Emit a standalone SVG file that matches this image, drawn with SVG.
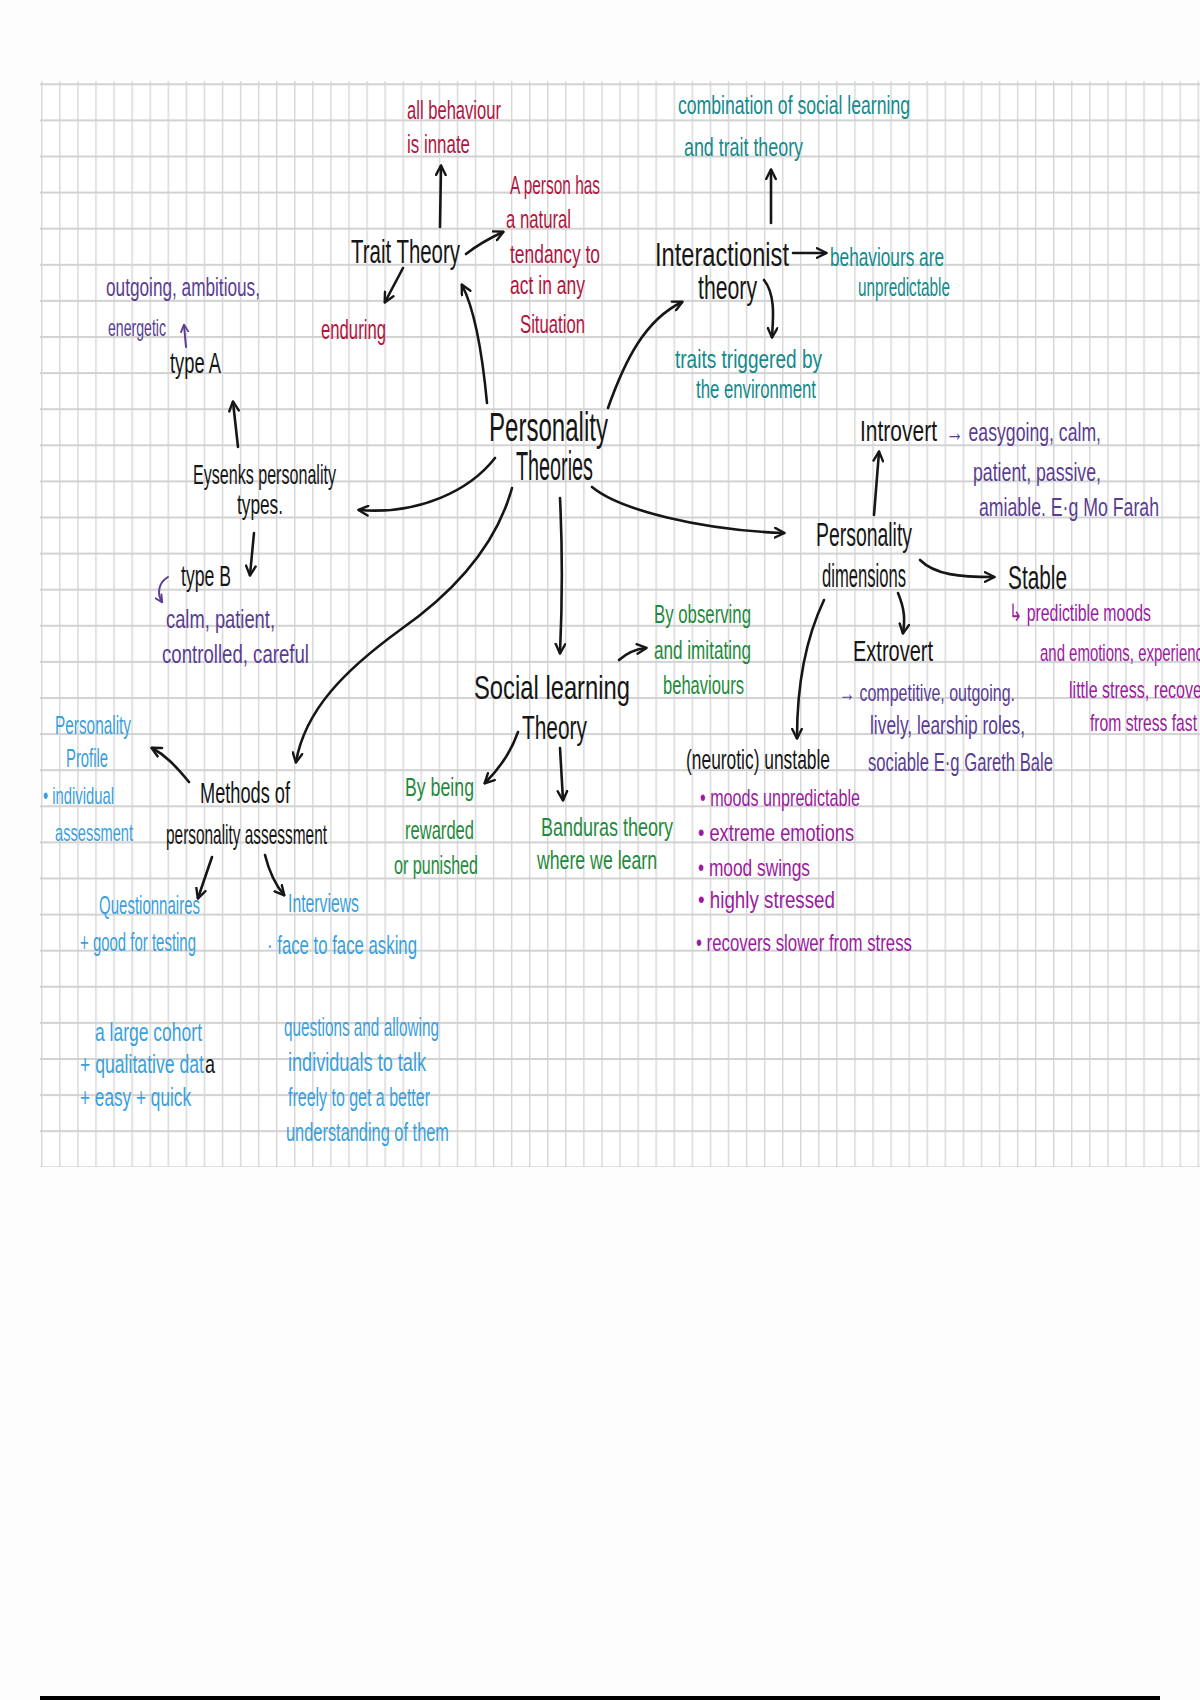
<svg xmlns="http://www.w3.org/2000/svg" width="1200" height="1700" viewBox="0 0 1200 1700">
<defs>
<style>
text{font-family:"Liberation Sans Narrow","Liberation Sans",Arial,sans-serif;}
.k{fill:#161616}.r{fill:#b3143e}.tl{fill:#138a8c}.p{fill:#5a3d92}.m{fill:#9c1a9e}.g{fill:#1f8a3c}.b{fill:#3a9fdc}
.s40{font-size:40px}.s33{font-size:33px}.s30{font-size:30px}.s28{font-size:28px}.s26{font-size:26px}.s24{font-size:24px}
.c{fill:none;stroke:#161616;stroke-width:2.6;stroke-linecap:round;marker-end:url(#ah)}
.cp{fill:none;stroke:#5a3d92;stroke-width:2;stroke-linecap:round;marker-end:url(#ahp)}
</style>
<marker id="ah" viewBox="0 0 10 10" refX="8.5" refY="5" markerWidth="12" markerHeight="12" markerUnits="userSpaceOnUse" orient="auto">
<path d="M1,1 L9,5 L1,9" fill="none" stroke="#161616" stroke-width="2" stroke-linecap="round" stroke-linejoin="round"/>
</marker>
<marker id="ahp" viewBox="0 0 10 10" refX="8.5" refY="5" markerWidth="9" markerHeight="9" markerUnits="userSpaceOnUse" orient="auto">
<path d="M1,1 L9,5 L1,9" fill="none" stroke="#5a3d92" stroke-width="2" stroke-linecap="round" stroke-linejoin="round"/>
</marker>
<pattern id="grid" patternUnits="userSpaceOnUse" x="41.1" y="83.3" width="18.07" height="36.1">
<rect x="0" y="0" width="1.4" height="36.1" fill="#d6d6d6"/>
<rect x="0" y="0" width="18.07" height="2" fill="#d2d2d2"/>
</pattern>
</defs>
<rect x="0" y="0" width="1200" height="1700" fill="#fdfdfd"/>
<g id="paper">
<rect x="40" y="81" width="1160" height="1086" fill="#ffffff"/>
<rect x="40" y="81" width="1160" height="1086" fill="url(#grid)"/>
<rect x="40" y="1696" width="1120" height="4" fill="#000000"/>
</g>

<g id="connectors">
<path class="c" d="M487,403 C482,350 475,310 462,285"/>
<path class="c" d="M440,227 L441,166"/>
<path class="c" d="M466,254 C480,243 490,238 503,232"/>
<path class="c" d="M403,268 L385,302"/>
<path class="c" d="M608,408 C625,360 645,320 682,302"/>
<path class="c" d="M771,223 L771,170"/>
<path class="c" d="M793,253 L826,253"/>
<path class="c" d="M764,280 C776,295 773,320 772,337"/>
<path class="c" d="M495,458 C470,490 420,515 359,510"/>
<path class="c" d="M238,447 L233,402"/>
<path class="c" d="M254,533 L250,575"/>
<path class="c" d="M512,488 C495,550 450,595 400,630 C345,670 305,710 296,762"/>
<path class="c" d="M560,498 C563,560 562,610 560,653"/>
<path class="c" d="M619,660 C628,652 636,649 646,648"/>
<path class="c" d="M518,732 C510,755 498,770 485,783"/>
<path class="c" d="M560,748 L563,800"/>
<path class="c" d="M592,487 C620,510 700,530 784,533"/>
<path class="c" d="M874,515 L879,452"/>
<path class="c" d="M920,560 C935,575 960,577 994,577"/>
<path class="c" d="M898,593 C905,610 905,620 903,633"/>
<path class="c" d="M824,600 C805,640 797,690 797,738"/>
<path class="c" d="M189,782 C175,765 165,755 152,748"/>
<path class="c" d="M212,857 L198,898"/>
<path class="c" d="M265,855 C270,875 278,888 284,895"/>
<path class="cp" d="M186,347 L184,325"/>
<path class="cp" d="M168,577 C158,583 157,594 162,602"/>
</g>

<g id="personality-theories">
<text class="k s40" x="489" y="441" textLength="119" lengthAdjust="spacingAndGlyphs">Personality</text>
<text class="k s40" x="516" y="480" textLength="77" lengthAdjust="spacingAndGlyphs">Theories</text>
</g>

<g id="trait-theory">
<text class="k s33" x="351" y="263" textLength="109" lengthAdjust="spacingAndGlyphs">Trait Theory</text>
</g>
<g id="all-behaviour">
<text class="r s26" x="407" y="119" textLength="94" lengthAdjust="spacingAndGlyphs">all behaviour</text>
<text class="r s26" x="407" y="153" textLength="63" lengthAdjust="spacingAndGlyphs">is innate</text>
</g>
<g id="natural-tendancy">
<text class="r s26" x="510" y="194" textLength="90" lengthAdjust="spacingAndGlyphs">A person has</text>
<text class="r s26" x="506" y="228" textLength="65" lengthAdjust="spacingAndGlyphs">a natural</text>
<text class="r s26" x="510" y="263" textLength="90" lengthAdjust="spacingAndGlyphs">tendancy to</text>
<text class="r s26" x="510" y="294" textLength="75" lengthAdjust="spacingAndGlyphs">act in any</text>
<text class="r s26" x="520" y="333" textLength="65" lengthAdjust="spacingAndGlyphs">Situation</text>
</g>
<g id="enduring">
<text class="r s28" x="321" y="339" textLength="65" lengthAdjust="spacingAndGlyphs">enduring</text>
</g>

<g id="interactionist">
<text class="k s33" x="655" y="266" textLength="134" lengthAdjust="spacingAndGlyphs">Interactionist</text>
<text class="k s33" x="698" y="299" textLength="59" lengthAdjust="spacingAndGlyphs">theory</text>
</g>
<g id="combination">
<text class="tl s26" x="678" y="114" textLength="232" lengthAdjust="spacingAndGlyphs">combination of social learning</text>
<text class="tl s26" x="684" y="156" textLength="119" lengthAdjust="spacingAndGlyphs">and trait theory</text>
</g>
<g id="unpredictable">
<text class="tl s26" x="830" y="266" textLength="114" lengthAdjust="spacingAndGlyphs">behaviours are</text>
<text class="tl s26" x="858" y="296" textLength="92" lengthAdjust="spacingAndGlyphs">unpredictable</text>
</g>
<g id="triggered">
<text class="tl s26" x="675" y="368" textLength="147" lengthAdjust="spacingAndGlyphs">traits triggered by</text>
<text class="tl s26" x="696" y="398" textLength="120" lengthAdjust="spacingAndGlyphs">the environment</text>
</g>

<g id="eysenks">
<text class="k s28" x="193" y="484" textLength="143" lengthAdjust="spacingAndGlyphs">Eysenks personality</text>
<text class="k s28" x="237" y="514" textLength="46" lengthAdjust="spacingAndGlyphs">types.</text>
</g>
<g id="type-a">
<text class="k s30" x="170" y="373" textLength="51" lengthAdjust="spacingAndGlyphs">type A</text>
<text class="p s26" x="106" y="296" textLength="154" lengthAdjust="spacingAndGlyphs">outgoing, ambitious,</text>
<text class="p s24" x="108" y="336" textLength="58" lengthAdjust="spacingAndGlyphs">energetic</text>
</g>
<g id="type-b">
<text class="k s30" x="181" y="586" textLength="50" lengthAdjust="spacingAndGlyphs">type B</text>
<text class="p s26" x="166" y="628" textLength="109" lengthAdjust="spacingAndGlyphs">calm, patient,</text>
<text class="p s26" x="162" y="663" textLength="147" lengthAdjust="spacingAndGlyphs">controlled, careful</text>
</g>

<g id="personality-dimensions">
<text class="k s33" x="816" y="546" textLength="96" lengthAdjust="spacingAndGlyphs">Personality</text>
<text class="k s33" x="822" y="587" textLength="84" lengthAdjust="spacingAndGlyphs">dimensions</text>
</g>
<g id="introvert">
<text class="k s30" x="860" y="441" textLength="77" lengthAdjust="spacingAndGlyphs">Introvert</text>
<text class="p s26" x="946" y="441" textLength="155" lengthAdjust="spacingAndGlyphs">→ easygoing, calm,</text>
<text class="p s26" x="973" y="481" textLength="128" lengthAdjust="spacingAndGlyphs">patient, passive,</text>
<text class="p s26" x="979" y="516" textLength="180" lengthAdjust="spacingAndGlyphs">amiable. E·g Mo Farah</text>
</g>
<g id="stable">
<text class="k s33" x="1008" y="589" textLength="59" lengthAdjust="spacingAndGlyphs">Stable</text>
<text class="m s24" x="1009" y="621" textLength="142" lengthAdjust="spacingAndGlyphs">↳ predictible moods</text>
<text class="m s24" x="1040" y="661" textLength="163" lengthAdjust="spacingAndGlyphs">and emotions, experienc</text>
<text class="m s24" x="1069" y="698" textLength="133" lengthAdjust="spacingAndGlyphs">little stress, recove</text>
<text class="m s24" x="1090" y="731" textLength="107" lengthAdjust="spacingAndGlyphs">from stress fast</text>
</g>
<g id="extrovert">
<text class="k s30" x="853" y="661" textLength="80" lengthAdjust="spacingAndGlyphs">Extrovert</text>
<text class="p s24" x="839" y="701" textLength="176" lengthAdjust="spacingAndGlyphs">→ competitive, outgoing.</text>
<text class="p s26" x="870" y="734" textLength="155" lengthAdjust="spacingAndGlyphs">lively, learship roles,</text>
<text class="p s26" x="868" y="771" textLength="185" lengthAdjust="spacingAndGlyphs">sociable E·g Gareth Bale</text>
</g>
<g id="unstable">
<text class="k s28" x="686" y="769" textLength="144" lengthAdjust="spacingAndGlyphs">(neurotic) unstable</text>
<text class="m s24" x="700" y="806" textLength="160" lengthAdjust="spacingAndGlyphs">• moods unpredictable</text>
<text class="m s24" x="698" y="841" textLength="156" lengthAdjust="spacingAndGlyphs">• extreme emotions</text>
<text class="m s24" x="698" y="876" textLength="112" lengthAdjust="spacingAndGlyphs">• mood swings</text>
<text class="m s24" x="698" y="908" textLength="137" lengthAdjust="spacingAndGlyphs">• highly stressed</text>
<text class="m s24" x="696" y="951" textLength="216" lengthAdjust="spacingAndGlyphs">• recovers slower from stress</text>
</g>

<g id="social-learning">
<text class="k s33" x="474" y="699" textLength="156" lengthAdjust="spacingAndGlyphs">Social learning</text>
<text class="k s33" x="522" y="739" textLength="65" lengthAdjust="spacingAndGlyphs">Theory</text>
</g>
<g id="observing">
<text class="g s26" x="654" y="623" textLength="97" lengthAdjust="spacingAndGlyphs">By observing</text>
<text class="g s26" x="654" y="659" textLength="97" lengthAdjust="spacingAndGlyphs">and imitating</text>
<text class="g s26" x="663" y="694" textLength="81" lengthAdjust="spacingAndGlyphs">behaviours</text>
</g>
<g id="rewarded">
<text class="g s26" x="405" y="796" textLength="69" lengthAdjust="spacingAndGlyphs">By being</text>
<text class="g s26" x="405" y="839" textLength="69" lengthAdjust="spacingAndGlyphs">rewarded</text>
<text class="g s26" x="394" y="874" textLength="84" lengthAdjust="spacingAndGlyphs">or punished</text>
</g>
<g id="banduras">
<text class="g s26" x="541" y="836" textLength="132" lengthAdjust="spacingAndGlyphs">Banduras theory</text>
<text class="g s26" x="537" y="869" textLength="120" lengthAdjust="spacingAndGlyphs">where we learn</text>
</g>

<g id="methods">
<text class="k s30" x="200" y="803" textLength="90" lengthAdjust="spacingAndGlyphs">Methods of</text>
<text class="k s28" x="166" y="844" textLength="161" lengthAdjust="spacingAndGlyphs">personality assessment</text>
</g>
<g id="profile">
<text class="b s26" x="55" y="734" textLength="76" lengthAdjust="spacingAndGlyphs">Personality</text>
<text class="b s26" x="66" y="767" textLength="42" lengthAdjust="spacingAndGlyphs">Profile</text>
<text class="b s24" x="43" y="804" textLength="71" lengthAdjust="spacingAndGlyphs">• individual</text>
<text class="b s24" x="55" y="841" textLength="78" lengthAdjust="spacingAndGlyphs">assessment</text>
</g>
<g id="questionnaires">
<text class="b s26" x="99" y="914" textLength="101" lengthAdjust="spacingAndGlyphs">Questionnaires</text>
<text class="b s26" x="80" y="951" textLength="116" lengthAdjust="spacingAndGlyphs">+ good for testing</text>
<text class="b s26" x="95" y="1041" textLength="107" lengthAdjust="spacingAndGlyphs">a large cohort</text>
<text class="b s26" x="80" y="1073" textLength="124" lengthAdjust="spacingAndGlyphs">+ qualitative dat</text>
<text class="k s26" x="205" y="1073" textLength="10" lengthAdjust="spacingAndGlyphs">a</text>
<text class="b s26" x="80" y="1106" textLength="111" lengthAdjust="spacingAndGlyphs">+ easy + quick</text>
</g>
<g id="interviews">
<text class="b s26" x="288" y="912" textLength="71" lengthAdjust="spacingAndGlyphs">Interviews</text>
<text class="b s26" x="267" y="954" textLength="150" lengthAdjust="spacingAndGlyphs">· face to face asking</text>
<text class="b s26" x="284" y="1036" textLength="155" lengthAdjust="spacingAndGlyphs">questions and allowing</text>
<text class="b s26" x="288" y="1071" textLength="138" lengthAdjust="spacingAndGlyphs">individuals to talk</text>
<text class="b s26" x="288" y="1106" textLength="142" lengthAdjust="spacingAndGlyphs">freely to get a better</text>
<text class="b s26" x="286" y="1141" textLength="163" lengthAdjust="spacingAndGlyphs">understanding of them</text>
</g>
</svg>
